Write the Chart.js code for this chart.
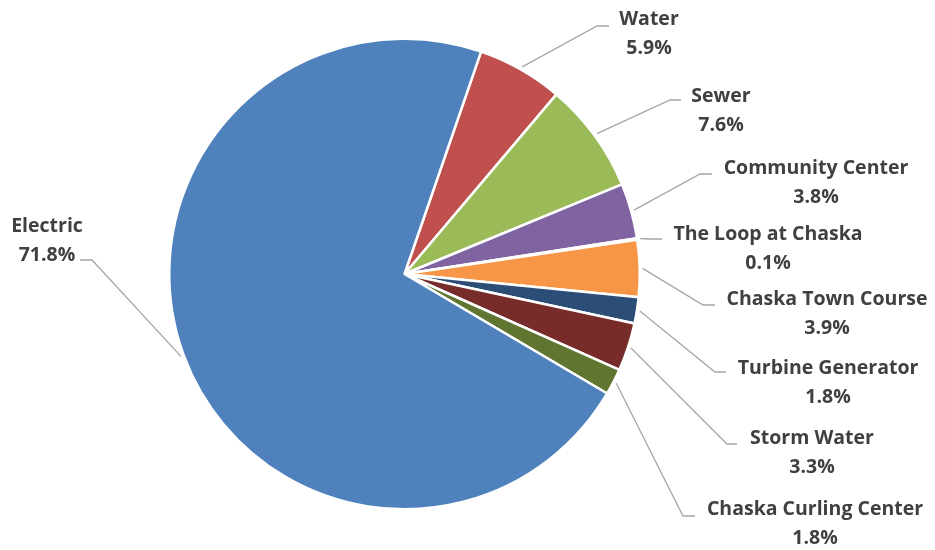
<!DOCTYPE html>
<html>
<head>
<meta charset="utf-8">
<script src="https://cdn.jsdelivr.net/npm/chart.js@4"></script>
<style>
  html, body { margin: 0; padding: 0; background: #fff; }
  #wrap { width: 935px; height: 550px; position: relative; }
</style>
</head>
<body>
<div id="wrap"><canvas id="pieChart"></canvas></div>
<script>
// data, clockwise from the Water slice
var categories = ['Water', 'Sewer', 'Community Center', 'The Loop at Chaska', 'Chaska Town Course',
  'Turbine Generator', 'Storm Water', 'Chaska Curling Center', 'Electric'];
var shares = [5.9, 7.6, 3.8, 0.1, 3.9, 1.8, 3.3, 1.8, 71.8];
var colors = ['#C0504D', '#9BBB59', '#8064A2', '#4BACC6', '#F79646', '#2C4D75', '#772C2A', '#5F7530', '#4F81BD'];

// where each label goes: elbow of the leader, end of the short horizontal bit, text centre
var labelPlace = [
  { ex: 597, ey: 26, hx: 609, tx: 649, ty: 18 },
  { ex: 670, ey: 100, hx: 681, tx: 721, ty: 95 },
  { ex: 700, ey: 174, hx: 712, tx: 816, ty: 167 },
  { ex: 650, ey: 239, hx: 662, tx: 768, ty: 233 },
  { ex: 703, ey: 305, hx: 715, tx: 827, ty: 298 },
  { ex: 715, ey: 372, hx: 726, tx: 828, ty: 367 },
  { ex: 727, ey: 444, hx: 737, tx: 812, ty: 437 },
  { ex: 683, ey: 516, hx: 695, tx: 815, ty: 508 },
  { ex: 92, ey: 260, hx: 80, tx: 47, ty: 225 }
];

var leaderLabels = {
  id: 'leaderLabels',
  afterDatasetsDraw: function (chart) {
    var ctx = chart.ctx;
    var arcs = chart.getDatasetMeta(0).data;
    ctx.save();
    arcs.forEach(function (arc, i) {
      var p = labelPlace[i];
      var mid = (arc.startAngle + arc.endAngle) / 2;
      var r = arc.outerRadius + 3;
      var sx = arc.x + Math.cos(mid) * r;
      var sy = arc.y + Math.sin(mid) * r;
      ctx.strokeStyle = '#A6A6A6';
      ctx.lineWidth = 1.3;
      ctx.beginPath();
      ctx.moveTo(sx, sy);
      ctx.lineTo(p.ex, p.ey);
      ctx.lineTo(p.hx, p.ey);
      ctx.stroke();

      ctx.fillStyle = '#404040';
      ctx.font = 'bold 19.5px "Open Sans"';
      ctx.textAlign = 'center';
      ctx.textBaseline = 'middle';
      ctx.fillText(categories[i], p.tx, p.ty + 1);
      ctx.fillText(shares[i].toFixed(1) + '%', p.tx, p.ty + 30);
    });
    ctx.restore();
  }
};

var ctx = document.getElementById('pieChart').getContext('2d');
var myPieChart = new Chart(ctx, {
  type: 'pie',
  data: {
    labels: categories,
    datasets: [{
      data: shares,
      backgroundColor: colors,
      borderColor: '#ffffff',
      borderWidth: 2.5,
      hoverOffset: 0
    }]
  },
  options: {
    responsive: true,
    maintainAspectRatio: false,
    animation: false,
    rotation: 19,
    layout: {
      padding: { left: 168, right: 294, top: 37.5, bottom: 39.5 }
    },
    plugins: {
      legend: { display: false },
      tooltip: { enabled: false }
    }
  },
  plugins: [leaderLabels]
});
</script>
</body>
</html>
